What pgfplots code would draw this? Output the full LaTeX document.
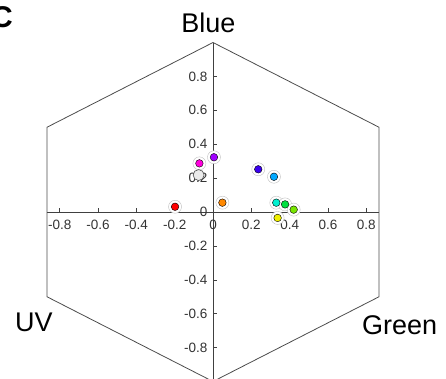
\documentclass[border=0pt]{standalone}
\usepackage{pgfplots}
\pgfplotsset{compat=1.18}
\usepackage{fontspec}
\setmainfont{Liberation Sans}
\definecolor{cRed}{HTML}{FF0000}
\definecolor{cMag}{HTML}{FF00DD}
\definecolor{cPur}{HTML}{A000FF}
\definecolor{cInd}{HTML}{3A00F0}
\definecolor{cLbl}{HTML}{00A8FF}
\definecolor{cCya}{HTML}{00F0D0}
\definecolor{cGrn}{HTML}{00E040}
\definecolor{cLim}{HTML}{78E600}
\definecolor{cYel}{HTML}{F0F000}
\definecolor{cOra}{HTML}{FF8800}
\begin{document}
\begin{tikzpicture}
\useasboundingbox (0pt,0pt) rectangle (446pt,-378pt);
\begin{axis}[
  at={(213pt,-212pt)}, anchor=origin,
  x=191.7pt, y=169.5pt,
  xmin=-0.866, xmax=0.866, ymin=-1, ymax=1,
  axis lines=middle,
  axis line style={-, black!75, line width=0.8pt},
  clip=false,
  xtick={-0.8,-0.6,-0.4,-0.2,0,0.2,0.4,0.6,0.8},
  ytick={-0.8,-0.6,-0.4,-0.2,0,0.2,0.4,0.6,0.8},
  hide obscured x ticks=false,
  hide obscured y ticks=false,
  tick align=inside,
  major tick length=4pt,
  tick style={black!75, line width=0.6pt},
  /pgf/number format/assume math mode=true,
  tick label style={font=\fontsize{13.5}{15}\selectfont, text=black!80},
  xticklabel style={yshift=-5pt},
  yticklabel style={xshift=-2pt},
]
\addplot[draw=black!70, line width=0.8pt] coordinates {(0,1) (0.866,0.5) (0.866,-0.5) (0,-1) (-0.866,-0.5) (-0.866,0.5) (0,1)};
% outer rings
\addplot[only marks, mark=*, mark size=6.5pt, mark options={fill=white, draw=black!25, line width=0.4pt}] coordinates {
(-0.198,0.031) (-0.071,0.287) (0.005,0.323) (0.049,0.055) (0.236,0.252) (0.318,0.208) (0.330,0.055) (0.376,0.045) (0.421,0.014) (0.337,-0.035)};
\addplot[only marks, mark=*, mark size=5.5pt, mark options={fill=black!8, draw=black!70, line width=0.6pt}] coordinates {(-0.075,0.218)};
\addplot[only marks, mark=*, mark size=3.8pt, mark options={fill=cRed, draw=none}] coordinates {(-0.198,0.031)};
\addplot[only marks, mark=*, mark size=3.8pt, mark options={fill=cMag, draw=none}] coordinates {(-0.071,0.287)};
\addplot[only marks, mark=*, mark size=3.8pt, mark options={fill=cPur, draw=none}] coordinates {(0.005,0.323)};
\addplot[only marks, mark=*, mark size=3.8pt, mark options={fill=cOra, draw=none}] coordinates {(0.049,0.055)};
\addplot[only marks, mark=*, mark size=3.8pt, mark options={fill=cInd, draw=none}] coordinates {(0.236,0.252)};
\addplot[only marks, mark=*, mark size=3.8pt, mark options={fill=cLbl, draw=none}] coordinates {(0.318,0.208)};
\addplot[only marks, mark=*, mark size=3.8pt, mark options={fill=cCya, draw=none}] coordinates {(0.330,0.055)};
\addplot[only marks, mark=*, mark size=3.8pt, mark options={fill=cGrn, draw=none}] coordinates {(0.376,0.045)};
\addplot[only marks, mark=*, mark size=3.8pt, mark options={fill=cLim, draw=none}] coordinates {(0.421,0.014)};
\addplot[only marks, mark=*, mark size=3.8pt, mark options={fill=cYel, draw=none}] coordinates {(0.337,-0.035)};
\end{axis}
\node[anchor=base, inner sep=0pt, font=\fontsize{27}{30}\selectfont] at (208.5pt,-32pt) {Blue};
\node[anchor=base west, inner sep=0pt, font=\fontsize{27}{30}\selectfont] at (15pt,-331pt) {UV};
\node[anchor=base west, inner sep=0pt, font=\fontsize{27}{30}\selectfont] at (362pt,-334pt) {Green};
\node[anchor=base east, inner sep=0pt, font=\fontsize{30}{32}\selectfont\bfseries] at (13pt,-27pt) {C};
\end{tikzpicture}
\end{document}
